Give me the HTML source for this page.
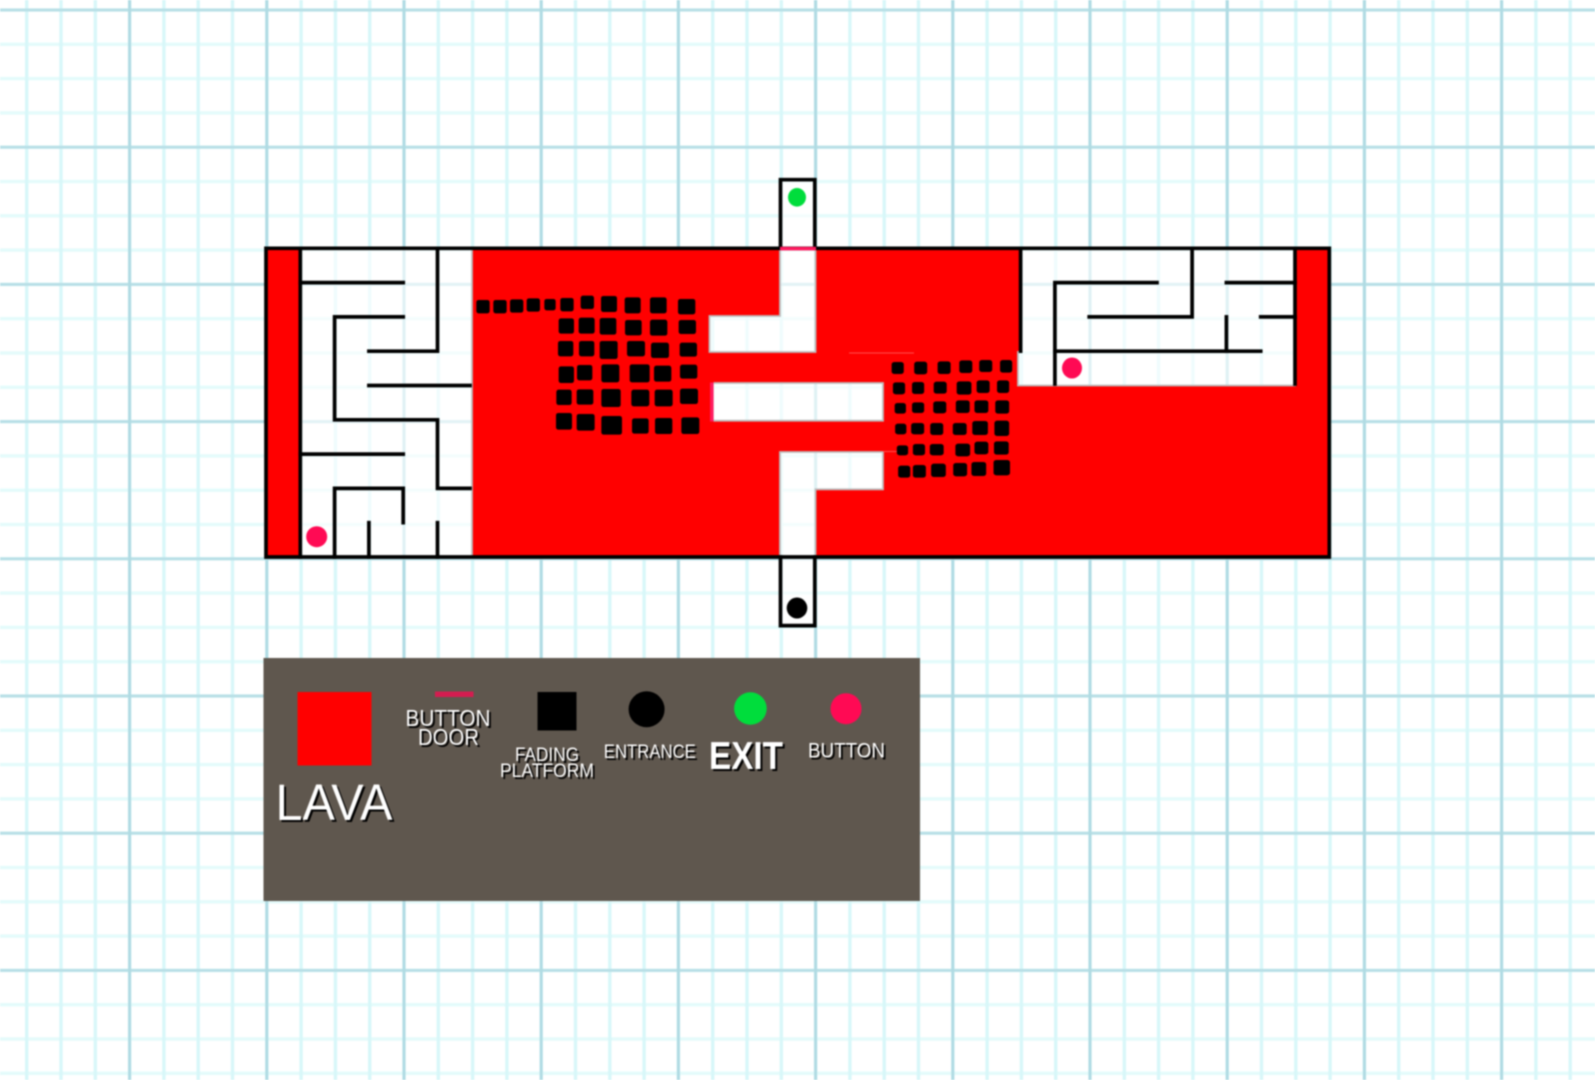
<!DOCTYPE html>
<html>
<head>
<meta charset="utf-8">
<title>Level map</title>
<style>
html,body{margin:0;padding:0;background:#fff;width:1595px;height:1080px;overflow:hidden}
svg{display:block;filter:blur(.8px)}
text{font-family:"Liberation Sans",sans-serif;fill:#fff}
.t{filter:drop-shadow(2px 2px 0 #000)}
</style>
</head>
<body>
<svg xmlns="http://www.w3.org/2000/svg" width="1595" height="1080" viewBox="0 0 1595 1080">
<defs>
<pattern id="minV" x="25" y="0" width="34.3" height="1080" patternUnits="userSpaceOnUse"><rect x="0" y="0" width="3.4" height="1080" fill="#d8f7f9"/></pattern>
<pattern id="minH" x="0" y="8.3" width="1595" height="34.3" patternUnits="userSpaceOnUse"><rect x="0" y="0" width="1595" height="3.4" fill="#e4fbfb"/></pattern>
<pattern id="majV" x="-9.1" y="0" width="137.2" height="1080" patternUnits="userSpaceOnUse"><rect x="0" y="0" width="3" height="1080" fill="#b0dbe3"/></pattern>
<pattern id="majH" x="0" y="8.5" width="1595" height="137.2" patternUnits="userSpaceOnUse"><rect x="0" y="0" width="1595" height="3" fill="#b8dfe6"/></pattern>
</defs>
<rect width="1595" height="1080" fill="#fff"/>
<rect width="1595" height="1080" fill="url(#minH)"/>
<rect width="1595" height="1080" fill="url(#minV)"/>
<rect width="1595" height="1080" fill="url(#majH)"/>
<rect width="1595" height="1080" fill="url(#majV)"/>

<!-- red lava with holes -->
<path fill-rule="evenodd" fill="#ff0000" d="M266 248.3H1329.3V557H266Z
M300.3 248.3H472V557H300.3Z
M1020.6 248.3H1296V385.5H1018V351H1020.6Z
M780 248.3H815.5V352H709.5V316H780Z
M713.5 383H883V420.7H713.5Z
M780 452H883V489.3H815.5V557H780Z"/>
<!-- pale fills over the grid -->
<g fill="#fff" fill-opacity=".6">
<path d="M300.3 248.3H472V557H300.3Z"/>
<path d="M1020.6 248.3H1296V385.5H1018V351H1020.6Z"/>
<path d="M780 179.7H815.5V352H709.5V316H780Z"/>
<path d="M713.5 383H883V420.7H713.5Z"/>
<path d="M780 452H883V489.3H815.5V626H780Z"/>
</g>
<g fill="none" stroke="#bdbdbd" stroke-width="1.8">
<path d="M472 250V556"/>
<path d="M1018 351V385.5H1296"/>
<path d="M780 250V316H709.5V352H815.5V250"/>
<path d="M713.5 383H883V420.7H713.5"/>
<path d="M780 556V452H883V489.3H815.5V556"/>
</g>
<path d="M849 353H914M883 451.5H897" stroke="#ff5050" stroke-width="1" fill="none"/>
<rect x="710" y="382.5" width="3.6" height="39" fill="#ff1a5e"/>

<!-- walls -->
<g fill="none" stroke="#000" stroke-width="3.7" stroke-linecap="square">
<path d="M266 248.3H1329.3V557H266Z"/>
<!-- left maze -->
<path d="M300.3 248.3V557"/>
<path d="M300.3 282.6H403.2"/>
<path d="M437.5 248.3V351.2H368.9"/>
<path d="M403.2 316.9H334.6V419.8H437.5V488.4H470"/>
<path d="M368.9 385.5H470"/>
<path d="M300.3 454.1H403.2"/>
<path d="M334.6 557V488.4H403.2V522.7"/>
<path d="M368.9 522.7V557"/>
<path d="M437.5 522.7V557"/>
<!-- right maze -->
<path d="M1020.6 248.3V351.2"/>
<path d="M1157 282.6H1054.9V384"/>
<path d="M1192.1 248.3V316.9H1089.2"/>
<path d="M1226.4 282.6H1295"/>
<path d="M1226.4 316.9V351.2"/>
<path d="M1260.7 316.9H1295"/>
<path d="M1054.9 351.2H1260.7"/>
<path d="M1295 248.3V384"/>
<!-- exit and entrance stubs -->
<path d="M780.5 248.3V179.7H814.8V248.3"/>
<path d="M780.5 557V625.6H814.8V557"/>
</g>
<rect x="780" y="246.8" width="36" height="3.6" fill="#ff1a5e"/>

<!-- markers -->
<ellipse cx="797" cy="197.3" rx="9" ry="9.3" fill="#00dd3c"/>
<ellipse cx="797" cy="608" rx="10.3" ry="10.5" fill="#000"/>
<circle cx="316.7" cy="536.7" r="10.5" fill="#ff0a54"/>
<ellipse cx="1072" cy="368" rx="10" ry="10.5" fill="#ff0a54"/>

<!-- fading platforms left -->
<g transform="translate(250,160) scale(.33333)" fill="#000">
<rect x="679" y="420" width="40" height="40" rx="7"/><rect x="730" y="420" width="40" height="40" rx="7"/><rect x="780" y="418" width="40" height="40" rx="7"/><rect x="830" y="415" width="40" height="40" rx="7"/><rect x="883" y="417" width="34" height="34" rx="7"/><rect x="931" y="414" width="40" height="40" rx="7"/><rect x="992" y="407" width="40" height="40" rx="7"/><rect x="1053" y="408" width="48" height="48" rx="7"/><rect x="1124" y="412" width="48" height="48" rx="7"/><rect x="1200" y="412" width="50" height="48" rx="7"/><rect x="1284" y="417" width="52" height="46" rx="7"/>
<rect x="926" y="475" width="46" height="46" rx="7"/><rect x="986" y="473" width="48" height="48" rx="7"/><rect x="1049" y="474" width="50" height="50" rx="7"/><rect x="1125" y="480" width="50" height="46" rx="7"/><rect x="1200" y="479" width="52" height="48" rx="7"/><rect x="1286" y="480" width="52" height="42" rx="7"/>
<rect x="924" y="543" width="46" height="46" rx="7"/><rect x="987" y="543" width="46" height="46" rx="7"/><rect x="1049" y="543" width="54" height="54" rx="7"/><rect x="1131" y="543" width="54" height="46" rx="7"/><rect x="1203" y="548" width="54" height="46" rx="7"/><rect x="1289" y="548" width="52" height="42" rx="7"/>
<rect x="926" y="619" width="46" height="50" rx="7"/><rect x="981" y="615" width="46" height="46" rx="7"/><rect x="1054" y="613" width="54" height="54" rx="7"/><rect x="1139" y="613" width="60" height="54" rx="7"/><rect x="1212" y="617" width="52" height="48" rx="7"/><rect x="1290" y="614" width="52" height="42" rx="7"/>
<rect x="919" y="689" width="46" height="46" rx="7"/><rect x="980" y="688" width="50" height="46" rx="7"/><rect x="1054" y="687" width="58" height="54" rx="7"/><rect x="1144" y="689" width="54" height="50" rx="7"/><rect x="1214" y="689" width="54" height="50" rx="7"/><rect x="1290" y="686" width="54" height="46" rx="7"/>
<rect x="918" y="759" width="48" height="50" rx="7"/><rect x="980" y="762" width="54" height="50" rx="7"/><rect x="1054" y="768" width="62" height="56" rx="7"/><rect x="1146" y="775" width="50" height="46" rx="7"/><rect x="1215" y="774" width="52" height="48" rx="7"/><rect x="1294" y="772" width="54" height="50" rx="7"/>
</g>
<!-- fading platforms right -->
<g transform="translate(680,160) scale(.43367,.33333)" fill="#000">
<rect x="488" y="606" width="28" height="36" rx="7"/><rect x="540" y="605" width="30" height="38" rx="7"/><rect x="594" y="604" width="30" height="38" rx="7"/><rect x="644" y="601" width="30" height="38" rx="7"/><rect x="690" y="600" width="30" height="36" rx="7"/><rect x="738" y="600" width="28" height="38" rx="7"/>
<rect x="491" y="667" width="28" height="36" rx="7"/><rect x="535" y="666" width="28" height="36" rx="7"/><rect x="585" y="665" width="30" height="36" rx="7"/><rect x="638" y="664" width="34" height="40" rx="7"/><rect x="684" y="661" width="30" height="38" rx="7"/><rect x="731" y="661" width="28" height="38" rx="7"/>
<rect x="495" y="729" width="26" height="32" rx="7"/><rect x="535" y="727" width="28" height="32" rx="7"/><rect x="584" y="724" width="30" height="36" rx="7"/><rect x="636" y="721" width="32" height="38" rx="7"/><rect x="679" y="721" width="32" height="38" rx="7"/><rect x="727" y="721" width="32" height="40" rx="7"/>
<rect x="496" y="791" width="26" height="32" rx="7"/><rect x="533" y="789" width="30" height="34" rx="7"/><rect x="577" y="789" width="30" height="36" rx="7"/><rect x="629" y="789" width="32" height="36" rx="7"/><rect x="674" y="783" width="36" height="42" rx="7"/><rect x="725" y="782" width="34" height="46" rx="7"/>
<rect x="500" y="856" width="26" height="30" rx="7"/><rect x="537" y="852" width="28" height="34" rx="7"/><rect x="576" y="852" width="32" height="34" rx="7"/><rect x="635" y="851" width="34" height="38" rx="7"/><rect x="679" y="845" width="32" height="38" rx="7"/><rect x="724" y="844" width="34" height="40" rx="7"/>
<rect x="503" y="917" width="28" height="36" rx="7"/><rect x="537" y="915" width="30" height="38" rx="7"/><rect x="579" y="911" width="34" height="40" rx="7"/><rect x="630" y="909" width="32" height="40" rx="7"/><rect x="672" y="906" width="34" height="42" rx="7"/><rect x="723" y="900" width="38" height="46" rx="7"/>
</g>

<!-- legend -->
<rect x="263.5" y="658" width="656.5" height="243" fill="#5f574e"/>
<rect x="297.5" y="692" width="74" height="73.5" fill="#ff0000"/>
<rect x="435" y="691.5" width="38.5" height="5.5" fill="#d41c50"/>
<rect x="537.5" y="692" width="39" height="38.5" fill="#000"/>
<circle cx="646.6" cy="709.3" r="18" fill="#000"/>
<circle cx="750.4" cy="708.5" r="16.3" fill="#00dd3c"/>
<circle cx="846" cy="708.7" r="15.5" fill="#ff0a54"/>
<g class="t">
<text x="275.5" y="820" font-size="51" textLength="117" lengthAdjust="spacingAndGlyphs">LAVA</text>
<text x="405.5" y="726" font-size="23" textLength="85" lengthAdjust="spacingAndGlyphs">BUTTON</text>
<text x="418" y="745" font-size="23" textLength="61" lengthAdjust="spacingAndGlyphs">DOOR</text>
<text x="515" y="761" font-size="19" textLength="64" lengthAdjust="spacingAndGlyphs">FADING</text>
<text x="500" y="777" font-size="19" textLength="94" lengthAdjust="spacingAndGlyphs">PLATFORM</text>
<text x="603.8" y="758" font-size="19" textLength="92" lengthAdjust="spacingAndGlyphs">ENTRANCE</text>
<text x="709" y="769" font-size="39" font-weight="bold" textLength="74" lengthAdjust="spacingAndGlyphs">EXIT</text>
<text x="808" y="757.5" font-size="21" textLength="77" lengthAdjust="spacingAndGlyphs">BUTTON</text>
</g>
</svg>
</body>
</html>
